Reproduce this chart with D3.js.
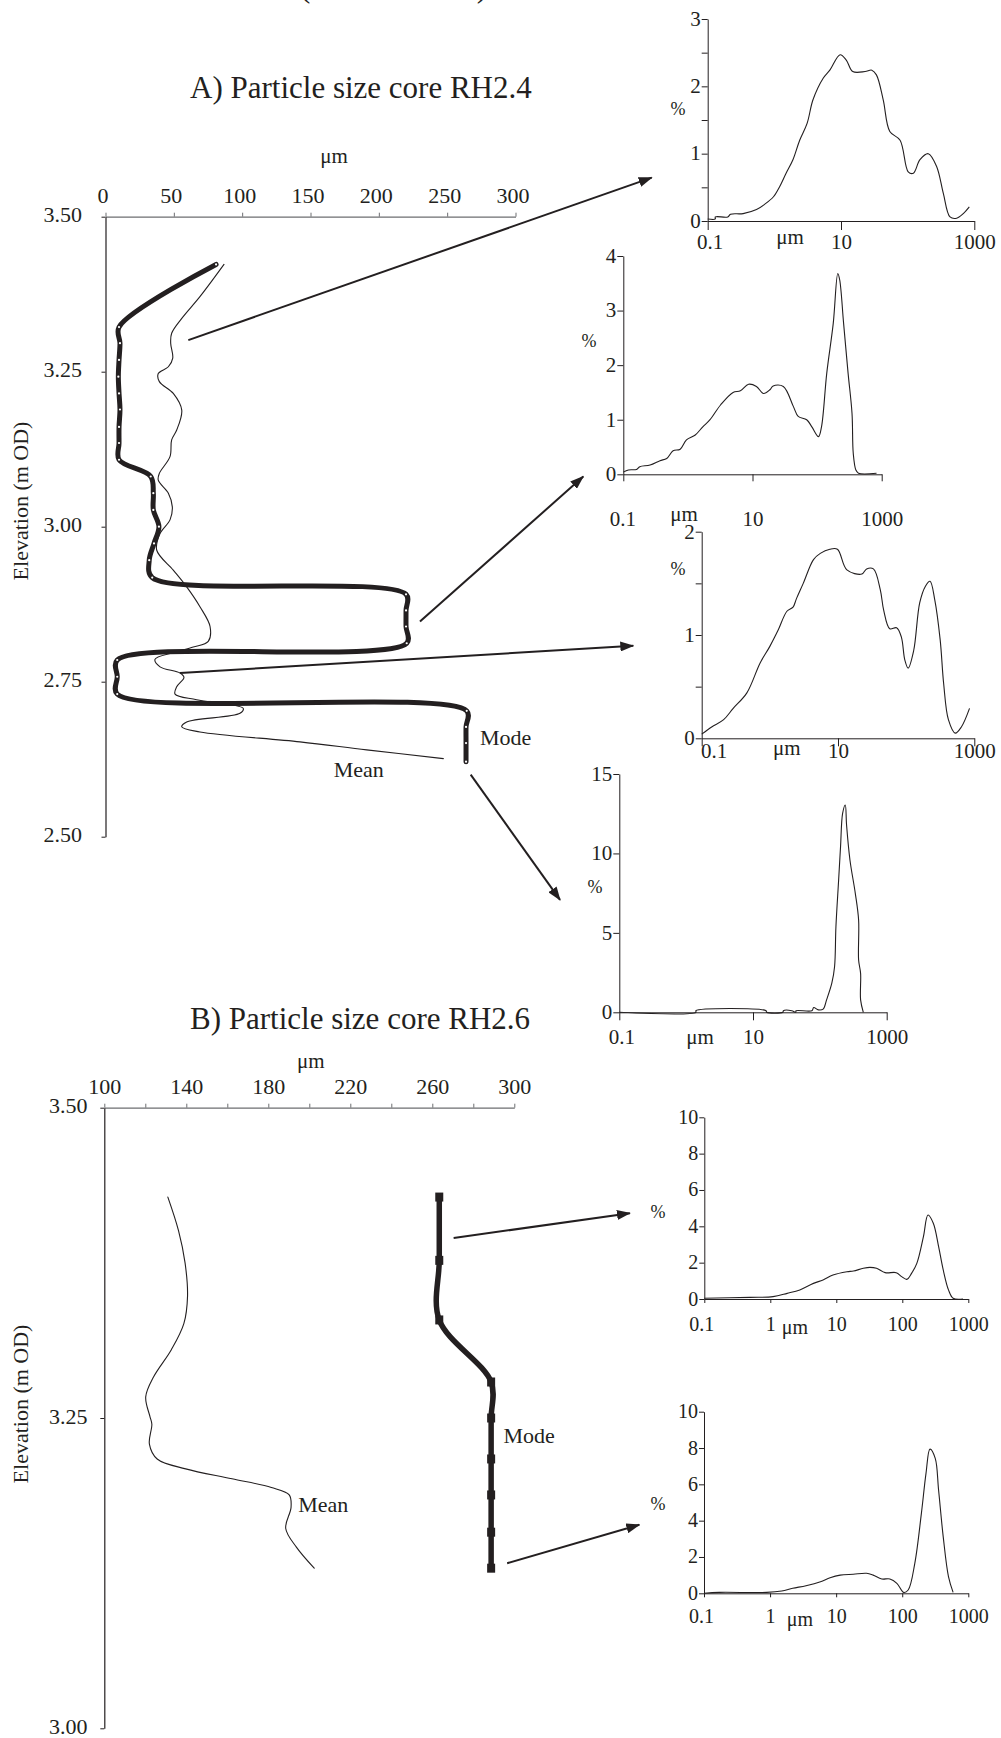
<!DOCTYPE html>
<html>
<head>
<meta charset="utf-8">
<script src="https://cdn.jsdelivr.net/npm/d3@7"></script>
<style>
  html, body { margin: 0; padding: 0; background: #fff; }
  svg { display: block; }
</style>
</head>
<body>
<svg id="fig" width="1001" height="1738"></svg>
<script>
// ---------------- Core RH2.4 down-core profiles ----------------
const coreA_modeSize = [80.9, 9.9, 10.6, 9.9, 9.4, 9.9, 10.6, 9.9, 9.9, 9.9, 33.1, 35.0, 35.0, 39.1, 35.5, 32.0, 34.2,
  219.9, 219.9, 219.9, 220.4, 8.6, 8.6, 8.6, 264.3, 263.8, 263.8, 263.8];
const coreA_modeElev = [3.423, 3.322, 3.296, 3.269, 3.242, 3.215, 3.189, 3.161, 3.135, 3.108, 3.081, 3.054, 3.027, 3.000, 2.973, 2.946, 2.918,
  2.891, 2.865, 2.839, 2.812, 2.785, 2.758, 2.730, 2.703, 2.677, 2.651, 2.621];

const coreA_meanSize = [86.7, 69.1, 55.8, 48.4, 47.7, 49.2, 46.0, 38.6, 39.4, 49.6, 55.8, 52.1, 48.4, 47.2, 39.4, 38.6, 46.0, 48.9, 47.2,
  39.9, 37.5, 49.6, 59.4, 69.1, 76.5, 75.2, 64.2, 49.6, 36.2, 39.9, 54.5, 57.4, 52.1, 50.9, 66.7, 100.8, 98.4, 59.4, 55.8, 69.1,
  142.3, 191.1, 247.2];
const coreA_meanElev = [3.423, 3.371, 3.336, 3.312, 3.296, 3.272, 3.258, 3.247, 3.234, 3.215, 3.188, 3.156, 3.140, 3.113, 3.086, 3.075, 3.054, 3.032, 3.011,
  2.989, 2.962, 2.930, 2.903, 2.871, 2.839, 2.815, 2.806, 2.797, 2.786, 2.774, 2.764, 2.757, 2.742, 2.730, 2.721, 2.707, 2.699, 2.685, 2.677, 2.669,
  2.653, 2.640, 2.626];

// ---------------- Core RH2.6 down-core profiles ----------------
const coreB_modeSize = [263.4, 263.4, 263.4, 288.7, 288.7, 288.7, 288.7, 288.7, 288.7];
const coreB_modeElev = [3.428, 3.377, 3.329, 3.279, 3.250, 3.217, 3.188, 3.158, 3.129];

const coreB_meanSize = [131.0, 136.2, 139.4, 140.6, 138.8, 132.7, 124.0, 120.2, 122.3, 123.2, 122.0, 125.8, 139.7, 162.3, 181.5, 190.2, 191.1, 188.5, 193.7, 202.4];
const coreB_meanElev = [3.428, 3.401, 3.375, 3.348, 3.326, 3.305, 3.283, 3.267, 3.251, 3.245, 3.229, 3.217, 3.209, 3.201, 3.194, 3.188, 3.178, 3.161, 3.146, 3.129];

// ---------------- Grain-size distributions (size in µm, volume %) ----------------
const distA1_size = [0.1, 0.13, 0.13, 0.2, 0.22, 0.34, 0.54, 0.72, 0.97, 1.2, 1.5, 1.9, 2.4, 3.1, 3.8, 5.4, 6.8, 9.7, 12, 15, 23, 29, 34, 43, 54, 77, 102, 122, 153, 204, 272, 343, 432, 543, 684, 841];
const distA1_pct  = [0.03, 0.03, 0.06, 0.06, 0.1, 0.11, 0.17, 0.25, 0.36, 0.51, 0.71, 0.91, 1.2, 1.45, 1.8, 2.12, 2.24, 2.47, 2.39, 2.22, 2.22, 2.24, 2.17, 1.8, 1.33, 1.2, 0.73, 0.71, 0.91, 1.0, 0.81, 0.41, 0.06, 0.04, 0.11, 0.21];

const distA2_size = [0.1, 0.12, 0.16, 0.18, 0.26, 0.37, 0.47, 0.59, 0.76, 0.95, 1.3, 1.7, 2.2, 3.2, 5.0, 6.5, 8.7, 11.5, 14.8, 18.6, 20.9, 30, 43, 51, 69, 83, 105, 117, 141, 178, 209, 224, 257, 302, 347, 363, 398, 437, 832];
const distA2_pct  = [0.04, 0.08, 0.09, 0.14, 0.17, 0.25, 0.29, 0.43, 0.46, 0.63, 0.72, 0.87, 1.0, 1.27, 1.5, 1.53, 1.65, 1.61, 1.48, 1.55, 1.62, 1.61, 1.24, 1.06, 1.0, 0.87, 0.69, 0.87, 1.85, 2.77, 3.68, 3.56, 2.77, 1.85, 1.12, 0.38, 0.08, 0.02, 0.02];

const distA3_size = [0.1, 0.14, 0.21, 0.29, 0.46, 0.72, 1.0, 1.33, 1.78, 2.19, 2.45, 3.09, 4.37, 5.5, 7.6, 9.8, 13.5, 22.4, 26.3, 33.1, 41.7, 46.8, 57.5, 72.4, 85.1, 95.5, 107, 129, 158, 191, 224, 263, 316, 355, 417, 525, 646, 851];
const distA3_pct  = [0.04, 0.11, 0.18, 0.29, 0.44, 0.73, 0.89, 1.05, 1.23, 1.27, 1.35, 1.5, 1.73, 1.79, 1.83, 1.83, 1.63, 1.59, 1.64, 1.64, 1.44, 1.24, 1.06, 1.07, 0.98, 0.76, 0.68, 0.85, 1.31, 1.47, 1.52, 1.34, 0.95, 0.53, 0.18, 0.05, 0.11, 0.29];

const distA4_size = [0.1, 1.4, 1.4, 15.7, 16, 28, 28.5, 38, 43.6, 44, 76, 81, 95, 112, 126, 151, 166, 174, 191, 204, 219, 240, 251, 282, 339, 380, 380, 407, 407, 447];
const distA4_pct  = [0, 0, 0.1, 0.1, 0, 0, 0.1, 0.1, 0, 0.1, 0.1, 0.3, 0.15, 0.2, 0.78, 1.83, 2.87, 5.39, 8.33, 10.43, 12.52, 13.05, 11.79, 9.59, 7.49, 5.81, 3.29, 2.45, 0.78, 0];

const distB1_size = [0.1, 0.49, 1.1, 1.8, 2.8, 4.5, 6.3, 8.9, 14.5, 18.2, 25.7, 32.4, 40.7, 55, 81, 98, 117, 138, 166, 209, 245, 295, 355, 417, 501, 589, 832];
const distB1_pct  = [0.04, 0.09, 0.13, 0.31, 0.5, 0.86, 1.05, 1.32, 1.5, 1.54, 1.69, 1.74, 1.69, 1.45, 1.45, 1.23, 1.08, 1.41, 1.96, 3.43, 4.62, 4.17, 2.88, 1.6, 0.5, 0.04, 0];

const distB2_size = [0.1, 0.17, 0.89, 1.5, 2.2, 3.5, 5.8, 8.1, 11.5, 18.2, 28.8, 36.3, 49, 65, 83, 105, 123, 155, 195, 229, 263, 316, 355, 417, 501, 589];
const distB2_pct  = [0, 0.05, 0.05, 0.13, 0.28, 0.42, 0.64, 0.86, 1.0, 1.05, 1.1, 1.0, 0.79, 0.79, 0.55, 0.05, 0.18, 1.65, 4.4, 6.6, 7.94, 7.43, 5.69, 3.12, 0.92, 0.05];

// ---------------- Axis ticks and labels ----------------
const sizeTicksA = [0, 50, 100, 150, 200, 250, 300];
const sizeTicksB = [100, 120, 140, 160, 180, 200, 220, 240, 260, 280, 300];
const sizeLabelsB = [100, 140, 180, 220, 260, 300];
const elevTicksA = [3.50, 3.25, 3.00, 2.75, 2.50];
const elevTicksB = [3.50, 3.25, 3.00];
const logTicksSparse = [0.1, 10, 1000];
const logTicksDecade = [0.1, 1, 10, 100, 1000];

// ---------------- Drawing ----------------
const INK = "#231f20";
const GREY = "#6d6e71";
const SERIF = '"Liberation Serif", "Times New Roman", Times, serif';
const svg = d3.select("#fig").attr("font-family", SERIF);

svg.append("defs").append("marker")
  .attr("id", "arrowhead")
  .attr("viewBox", "0 -5 14 10")
  .attr("refX", 13).attr("refY", 0)
  .attr("markerWidth", 14).attr("markerHeight", 10)
  .attr("markerUnits", "userSpaceOnUse")
  .attr("orient", "auto")
  .append("path").attr("d", "M0,-5L14,0L0,5Z").attr("fill", INK);

// running header, mostly above the page edge
svg.append("text").attr("x", 300).attr("y", -3.5)
  .attr("font-size", 31).attr("fill", INK)
  .attr("textLength", 187).attr("lengthAdjust", "spacing")
  .text("(continued)");

const fmtElev = d3.format(".2f");
const smooth = d3.curveCatmullRom.alpha(0.5);

function mainPanel(cfg) {
  const x = d3.scaleLinear().domain(cfg.xDomain).range([cfg.left, cfg.left + cfg.width]);
  const y = d3.scaleLinear().domain(cfg.yDomain).range([cfg.top, cfg.top + cfg.height]);

  svg.append("text").attr("x", cfg.titleX).attr("y", cfg.titleY)
    .attr("font-size", 31).attr("fill", INK).text(cfg.title);

  const gx = svg.append("g").attr("transform", `translate(0,${cfg.top})`)
    .call(d3.axisTop(x).tickValues(cfg.xTicks).tickSize(4).tickSizeOuter(0).tickPadding(10)
      .tickFormat(d => cfg.xLabels.includes(d) ? String(d) : ""));
  gx.attr("font-family", SERIF).attr("font-size", 22);
  gx.select(".domain").attr("stroke", GREY).attr("stroke-width", 1.2);
  gx.selectAll(".tick line").attr("stroke", GREY);
  gx.selectAll("text").attr("fill", INK).attr("dx", cfg.xLabelDx);

  svg.append("text").attr("x", cfg.unitX).attr("y", cfg.unitY)
    .attr("text-anchor", "middle").attr("font-size", 21).attr("fill", INK).text("μm");

  const gy = svg.append("g").attr("transform", `translate(${cfg.left},0)`)
    .call(d3.axisLeft(y).tickValues(cfg.yTicks).tickSize(4).tickSizeOuter(0).tickPadding(cfg.yPad)
      .tickFormat(fmtElev));
  gy.attr("font-family", SERIF).attr("font-size", 22);
  gy.select(".domain").attr("stroke", INK).attr("stroke-width", 1.2);
  gy.selectAll(".tick line").attr("stroke", INK);
  gy.selectAll("text").attr("fill", INK).attr("dy", "0.24em");

  svg.append("text")
    .attr("transform", `translate(28,${cfg.yLabelY}) rotate(-90)`)
    .attr("text-anchor", "middle").attr("font-size", 22).attr("fill", INK)
    .text("Elevation (m OD)");
  return { x, y };
}

function profile(sc, sizes, elevs, width) {
  const line = d3.line().curve(smooth)
    .x((d, i) => sc.x(sizes[i])).y((d, i) => sc.y(elevs[i]));
  svg.append("path").attr("d", line(sizes))
    .attr("fill", "none").attr("stroke", INK).attr("stroke-width", width)
    .attr("stroke-linejoin", "round").attr("stroke-linecap", "round");
}

function arrow(sc, from, to) {
  svg.append("line")
    .attr("x1", sc.x(from[0])).attr("y1", sc.y(from[1]))
    .attr("x2", sc.x(to[0])).attr("y2", sc.y(to[1]))
    .attr("stroke", INK).attr("stroke-width", 2)
    .attr("marker-end", "url(#arrowhead)");
}

function note(sc, at, txt) {
  svg.append("text").attr("x", sc.x(at[0])).attr("y", sc.y(at[1]))
    .attr("font-size", 22).attr("fill", INK).text(txt);
}

function distChart(cfg, sizes, pcts) {
  const x = d3.scaleLog().domain([0.1, 1000]).range([cfg.x0, cfg.x1]);
  const y = d3.scaleLinear().domain([0, cfg.yMax]).range([cfg.yZero, cfg.yTop]);

  const gy = svg.append("g").attr("transform", `translate(${cfg.x0},0)`)
    .call(d3.axisLeft(y).tickValues(cfg.yTicks).tickSize(cfg.tickY).tickSizeOuter(0).tickPadding(1)
      .tickFormat(d => cfg.yLabels.includes(d) ? String(d) : ""));
  gy.attr("font-family", SERIF).attr("font-size", cfg.font);
  gy.selectAll("line, .domain").attr("stroke", INK);
  gy.selectAll("text").attr("fill", INK).attr("dy", "0.3em");

  const gx = svg.append("g").attr("transform", `translate(0,${cfg.yZero})`)
    .call(d3.axisBottom(x).tickValues(cfg.xTicks).tickSize(cfg.tickX).tickSizeOuter(0)
      .tickFormat(d => String(d)));
  gx.attr("font-family", SERIF).attr("font-size", cfg.font);
  gx.selectAll("line, .domain").attr("stroke", INK);
  gx.selectAll("text").attr("fill", INK)
    .attr("y", cfg.labelBase - cfg.yZero).attr("dy", 0)
    .attr("dx", (d, i) => i === 0 ? cfg.firstDx : 0);

  svg.append("text").attr("x", cfg.unitX).attr("y", cfg.unitY)
    .attr("text-anchor", "middle").attr("font-size", cfg.font).attr("fill", INK).text("μm");
  svg.append("text").attr("x", cfg.pctX).attr("y", cfg.pctY)
    .attr("text-anchor", "middle").attr("font-size", 18).attr("fill", INK).text("%");

  const line = d3.line().curve(smooth).x((d, i) => x(sizes[i])).y((d, i) => y(pcts[i]));
  svg.append("path").attr("d", line(sizes))
    .attr("fill", "none").attr("stroke", INK).attr("stroke-width", 1.1)
    .attr("stroke-linejoin", "round");
}

// ---- A) core RH2.4 ----
const A = mainPanel({
  title: "A) Particle size core RH2.4", titleX: 190, titleY: 98,
  left: 105.5, width: 410, top: 216.7, height: 620,
  xDomain: [0, 300], yDomain: [3.5, 2.5],
  xTicks: sizeTicksA, xLabels: sizeTicksA, xLabelDx: -3,
  yTicks: elevTicksA, yPad: 19.5,
  unitX: 334, unitY: 163, yLabelY: 501
});
profile(A, coreA_meanSize, coreA_meanElev, 1.1);
profile(A, coreA_modeSize, coreA_modeElev, 5);
svg.append("g").selectAll("circle").data(coreA_modeSize).join("circle")
  .attr("cx", (d, i) => A.x(d)).attr("cy", (d, i) => A.y(coreA_modeElev[i]))
  .attr("r", 1.1).attr("fill", "#fff");
note(A, [274, 2.648], "Mode");
note(A, [167, 2.596], "Mean");

arrow(A, [60.6, 3.301], [399.7, 3.563]);
arrow(A, [230.1, 2.847], [349.6, 3.081]);
arrow(A, [54.5, 2.764], [386.2, 2.808]);
arrow(A, [267.2, 2.600], [332.6, 2.398]);

distChart({ x0: 707.7, x1: 974.3, yZero: 221, yTop: 19, yMax: 3,
  yTicks: [0, 0.5, 1, 1.5, 2, 2.5, 3], yLabels: [0, 1, 2, 3], xTicks: logTicksSparse,
  tickX: 9, tickY: 6, font: 21, labelBase: 249, firstDx: 2,
  unitX: 790, unitY: 244, pctX: 678, pctY: 115 }, distA1_size, distA1_pct);

distChart({ x0: 623.3, x1: 881.7, yZero: 474.3, yTop: 256, yMax: 4,
  yTicks: [0, 1, 2, 3, 4], yLabels: [0, 1, 2, 3, 4], xTicks: logTicksSparse,
  tickX: 7, tickY: 6, font: 21, labelBase: 526, firstDx: -1,
  unitX: 684, unitY: 521, pctX: 589, pctY: 347 }, distA2_size, distA2_pct);

distChart({ x0: 701.7, x1: 974.3, yZero: 738.3, yTop: 531.7, yMax: 2,
  yTicks: [0, 0.5, 1, 1.5, 2], yLabels: [0, 1, 2], xTicks: logTicksSparse,
  tickX: 8, tickY: 6, font: 21, labelBase: 758, firstDx: 12,
  unitX: 786.7, unitY: 755, pctX: 678, pctY: 575 }, distA3_size, distA3_pct);

distChart({ x0: 619.3, x1: 886.7, yZero: 1012.3, yTop: 774, yMax: 15,
  yTicks: [0, 5, 10, 15], yLabels: [0, 5, 10, 15], xTicks: logTicksSparse,
  tickX: 8, tickY: 6, font: 21, labelBase: 1044, firstDx: 2,
  unitX: 700, unitY: 1044, pctX: 595, pctY: 893 }, distA4_size, distA4_pct);

// ---- B) core RH2.6 ----
const B = mainPanel({
  title: "B) Particle size core RH2.6", titleX: 190, titleY: 1029,
  left: 104.3, width: 410, top: 1107.7, height: 620.6,
  xDomain: [100, 300], yDomain: [3.5, 3.0],
  xTicks: sizeTicksB, xLabels: sizeLabelsB, xLabelDx: 0,
  yTicks: elevTicksB, yPad: 12.8,
  unitX: 310.7, unitY: 1068, yLabelY: 1404
});
profile(B, coreB_meanSize, coreB_meanElev, 1.1);
profile(B, coreB_modeSize, coreB_modeElev, 5.5);
svg.append("g").selectAll("rect").data(coreB_modeSize).join("rect")
  .attr("x", d => B.x(d) - 4).attr("y", (d, i) => B.y(coreB_modeElev[i]) - 4.5)
  .attr("width", 8).attr("height", 9).attr("fill", INK);
note(B, [294.7, 3.230], "Mode");
note(B, [194.6, 3.174], "Mean");

arrow(B, [270.4, 3.395], [356.4, 3.415]);
arrow(B, [296.5, 3.133], [361.0, 3.164]);

distChart({ x0: 704.3, x1: 968.3, yZero: 1299, yTop: 1117.3, yMax: 10,
  yTicks: [0, 2, 4, 6, 8, 10], yLabels: [0, 2, 4, 6, 8, 10], xTicks: logTicksDecade,
  tickX: 4, tickY: 5, font: 20, labelBase: 1331, firstDx: -3,
  unitX: 795, unitY: 1334, pctX: 658, pctY: 1218 }, distB1_size, distB1_pct);

distChart({ x0: 704, x1: 968.3, yZero: 1593.3, yTop: 1411.7, yMax: 10,
  yTicks: [0, 2, 4, 6, 8, 10], yLabels: [0, 2, 4, 6, 8, 10], xTicks: logTicksDecade,
  tickX: 4, tickY: 5, font: 20, labelBase: 1623, firstDx: -3,
  unitX: 800, unitY: 1626, pctX: 658, pctY: 1510 }, distB2_size, distB2_pct);
</script>
</body>
</html>
